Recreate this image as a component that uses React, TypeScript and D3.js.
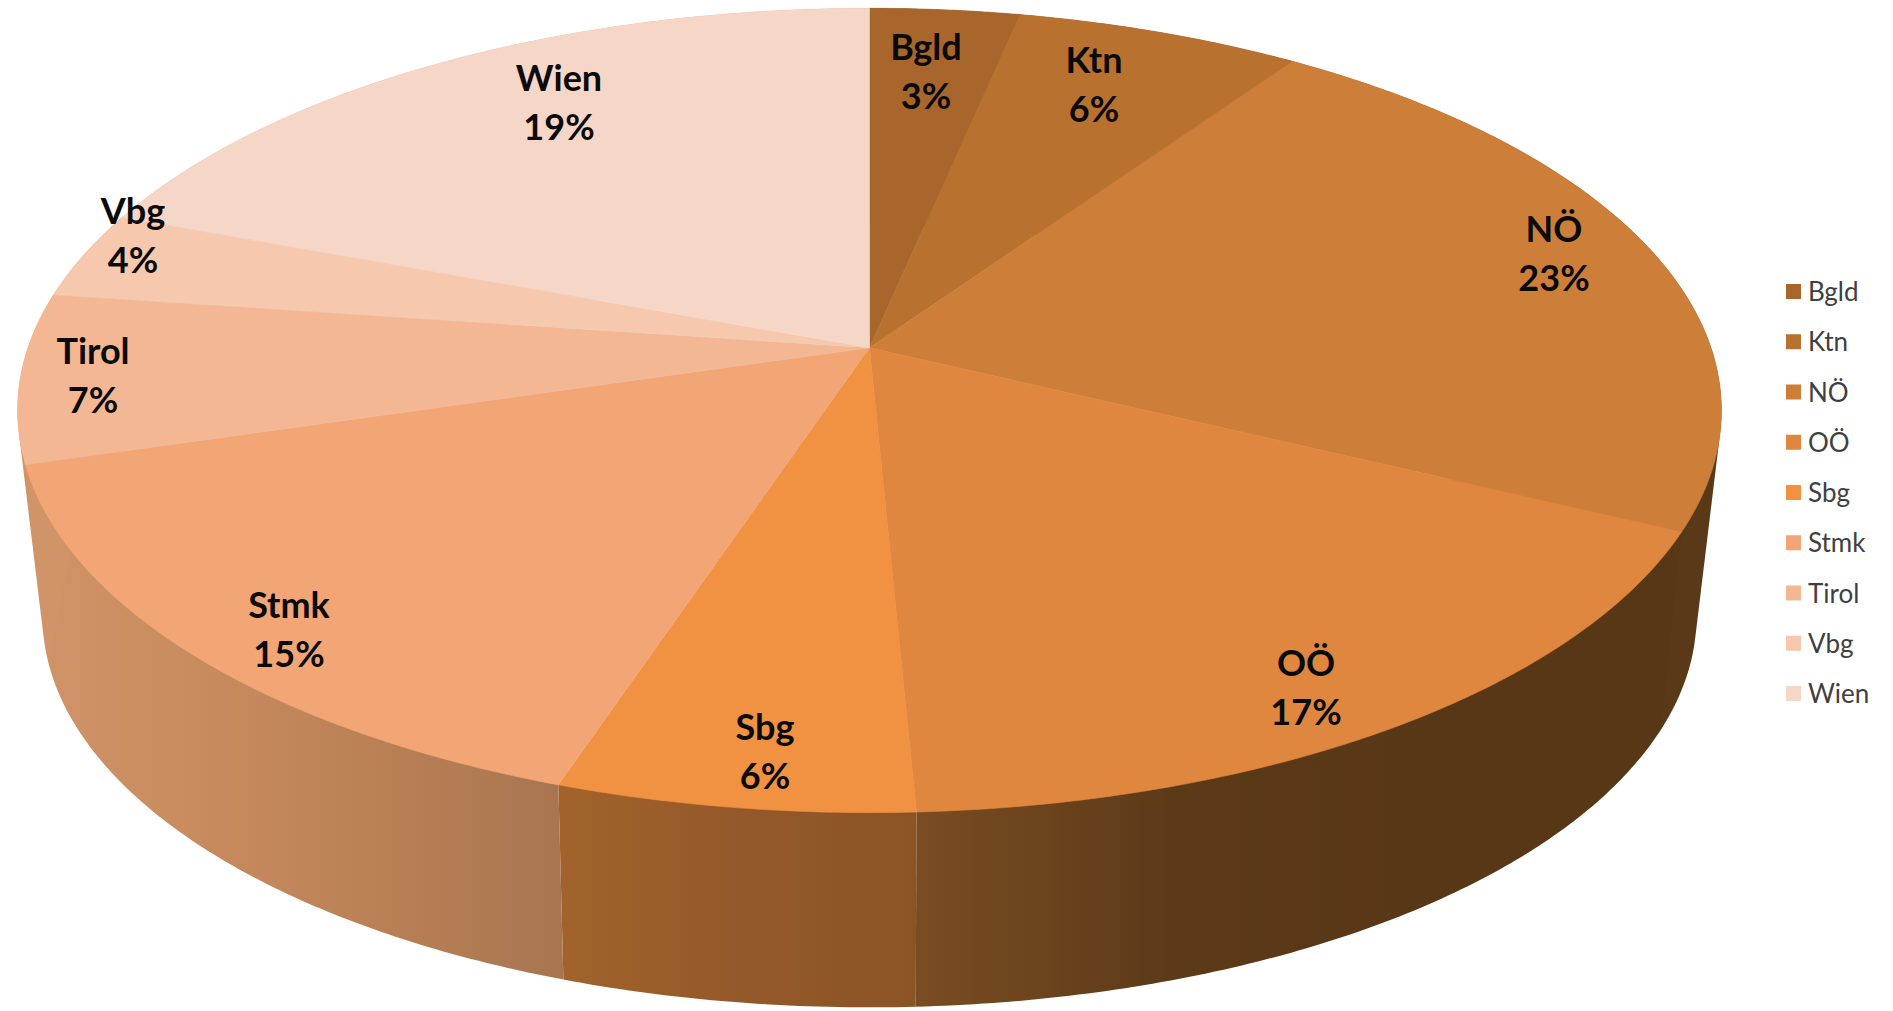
import React from 'react';
import * as d3 from 'd3';

const regions = ['Bgld', 'Ktn', 'NÖ', 'OÖ', 'Sbg', 'Stmk', 'Tirol', 'Vbg', 'Wien'];
const shares = [3.3, 6.3, 22.6, 17.05, 5.85, 15.3, 6.8, 3.5, 19.3];
const topColors = ['#a8662c', '#b97130', '#cd7f39', '#e0873f', '#f19142', '#f3a675', '#f4b794', '#f6c9af', '#f6d7c7'];
// wall colours, screen left to right
const wallColors = [
  ['#6b4020', '#6b4020'],
  ['#6b4020', '#6b4020'],
  ['#5a3918', '#5a3918'],
  ['#7a4c22', '#5c3a18', '#583717', '#583717'],
  ['#a2632b', '#94592a', '#8a5425'],
  ['#d09468', '#c88b5e', '#b98056', '#a8754f'],
  ['#d09468', '#d09468'],
  ['#d09468', '#d09468'],
  ['#d09468', '#d09468'],
];
// label centres in page pixels (name line)
const labelX = [926, 1094, 1554, 1306, 765, 289, 93, 133, 559];
const labelY = [47, 60, 229, 663, 727, 605, 351, 211, 78];

const width = 1893;
const height = 1011;
const cx = 869.5;
const fontLabel = 'Lato, Carlito, Calibri, sans-serif';

// the round top and bottom are seen in perspective, k pulls the far side in
const top = { r: 841.5, s: 392.4, k: 0.156, y0: 347.7 };
const bottom = { r: 815, s: 380, k: 0.17, y0: 549.5 };

type Face = typeof top;
const project = (f: Face, angle: number): [number, number] => {
  const x = Math.sin(angle);
  const y = -Math.cos(angle);
  const w = 1 - f.k * y;
  return [cx + (f.r * x) / w, f.y0 + (f.s * y) / w];
};

const line = d3.line();
const pie = d3.pie<number>().sort(null).value(d => d);
const slices = pie(shares);
const arcAngles = (a0: number, a1: number) => {
  const n = Math.max(2, Math.ceil((a1 - a0) / 0.01));
  return d3.range(n + 1).map(i => a0 + ((a1 - a0) * i) / n);
};

const legendY = d3.scalePoint<string>().domain(regions).range([292, 694]);

export default function App() {
  return (
    <svg
      width={width}
      height={height}
      viewBox={`0 0 ${width} ${height}`}
      style={{ position: 'absolute', left: 0, top: 0, background: '#fff' }}
    >
      <defs>
        {slices.map((s, i) => {
          const xs = arcAngles(s.startAngle, s.endAngle).flatMap(a => [project(top, a)[0], project(bottom, a)[0]]);
          const stops = wallColors[i];
          return (
            <linearGradient key={i} id={`wall${i}`} gradientUnits="userSpaceOnUse" x1={d3.min(xs)} x2={d3.max(xs)} y1={0} y2={0}>
              {stops.map((c, j) => (
                <stop key={j} offset={j / (stops.length - 1)} stopColor={c} />
              ))}
            </linearGradient>
          );
        })}
      </defs>

      {/* side walls, the hull keeps the edge straight at the widest points */}
      {slices.map((s, i) => {
        const angles = arcAngles(s.startAngle, s.endAngle);
        const pts = [...angles.map(a => project(top, a)), ...angles.map(a => project(bottom, a))];
        const hull = d3.polygonHull(pts) as [number, number][];
        return <path key={i} d={line(hull) + 'Z'} fill={`url(#wall${i})`} />;
      })}

      {/* top face */}
      {slices.map((s, i) => {
        const pts: [number, number][] = [[cx, top.y0], ...arcAngles(s.startAngle, s.endAngle).map(a => project(top, a))];
        return <path key={i} d={line(pts) + 'Z'} fill={topColors[i]} stroke={topColors[i]} strokeWidth={0.6} />;
      })}

      {/* data labels */}
      {regions.map((name, i) => (
        <text key={name} textAnchor="middle" fontFamily={fontLabel} fontWeight={700} fontSize={36} fill="#0a0a0a">
          <tspan x={labelX[i]} y={labelY[i] + 13}>{name}</tspan>
          <tspan x={labelX[i]} y={labelY[i] + 62}>{d3.format('.0f')(shares[i] + 1e-6)}%</tspan>
        </text>
      ))}

      {/* legend */}
      {regions.map((name, i) => (
        <g key={name} transform={`translate(0,${legendY(name)})`}>
          <rect x={1786} y={-8} width={15} height={15} fill={topColors[i]} />
          <text x={1808} y={9} fontFamily={fontLabel} fontSize={26} fill="#404040">{name}</text>
        </g>
      ))}
    </svg>
  );
}
